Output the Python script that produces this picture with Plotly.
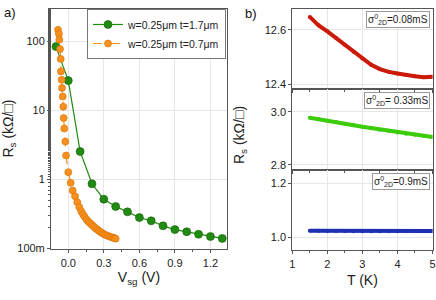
import plotly.graph_objects as go

# ---- panel a) data ----
vsg_thick = [-0.104, 0.0, 0.1, 0.2, 0.3, 0.4, 0.5, 0.6, 0.7, 0.8, 0.9, 1.0, 1.1, 1.2, 1.3]
rs_thick = [84.7, 27.2, 2.55, 0.867, 0.519, 0.406, 0.340, 0.281, 0.252, 0.213, 0.188, 0.175, 0.161, 0.149, 0.140]

vsg_thin = [-0.087, -0.079, -0.076, -0.070, -0.064, -0.062, -0.056, -0.053, -0.047, -0.042,
            -0.039, -0.034, -0.025, -0.019, 0.0, 0.02, 0.037, 0.057, 0.076, 0.093,
            0.11, 0.125, 0.14, 0.155, 0.17, 0.185, 0.2, 0.215, 0.23, 0.245,
            0.26, 0.275, 0.29, 0.305, 0.32, 0.335, 0.35, 0.365, 0.38, 0.39, 0.40]
rs_thin = [148, 129, 106, 78, 56, 37, 27.9, 21.3, 16.0, 11.4,
           7.8, 5.5, 3.56, 2.23, 1.28, 0.895, 0.693, 0.573, 0.469, 0.397,
           0.345, 0.31, 0.285, 0.262, 0.245, 0.232, 0.22, 0.208, 0.197, 0.188,
           0.18, 0.172, 0.166, 0.16, 0.156, 0.152, 0.149, 0.146, 0.143, 0.141, 0.139]

legend_names = ["w=0.25\u03bcm t=1.7\u03bcm", "w=0.25\u03bcm t=0.7\u03bcm"]
ytick_vals_a = [0.1, 1, 10, 100]
ytick_text_a = ["100m", "1", "10", "100"]
xtick_vals_a = [0.0, 0.3, 0.6, 0.9, 1.2]
xtick_text_a = ["0.0", "0.3", "0.6", "0.9", "1.2"]

# ---- panel b) data ----
T = [1.5, 1.75, 2.0, 2.25, 2.5, 2.75, 3.0, 3.25, 3.5, 3.75, 4.0, 4.25, 4.5, 4.75, 5.0]
rs_008 = [12.648, 12.617, 12.595, 12.57, 12.545, 12.52, 12.495, 12.472, 12.456, 12.446,
          12.44, 12.434, 12.43, 12.426, 12.428]
rs_033 = [2.977, 2.972, 2.966, 2.961, 2.955, 2.949, 2.943, 2.938, 2.932, 2.927,
          2.922, 2.917, 2.913, 2.909, 2.905]
rs_09 = [1.024, 1.024, 1.023, 1.023, 1.023, 1.022, 1.022, 1.022, 1.022, 1.022,
         1.022, 1.023, 1.023, 1.023, 1.023]
sigma_labels = ["=0.08mS", "= 0.33mS", "=0.9mS"]
T_ticks = [1, 2, 3, 4, 5]

GREEN = "#218a12"
ORANGE = "#f7901e"
RED = "#cc1a08"
LIME = "#3ccc0a"
BLUE = "#1d2fb2"
GRID = "#e6e6e6"
FONT = "Liberation Sans, Arial, sans-serif"

fig = go.Figure()

fig.add_trace(go.Scatter(x=vsg_thick, y=rs_thick, mode="lines+markers", name=legend_names[0],
                         line=dict(color=GREEN, width=1.2),
                         marker=dict(color=GREEN, size=8, line=dict(color="#156008", width=0.6)),
                         xaxis="x", yaxis="y"))
fig.add_trace(go.Scatter(x=vsg_thin, y=rs_thin, mode="lines+markers", name=legend_names[1],
                         line=dict(color=ORANGE, width=1.2, dash="dash"),
                         marker=dict(color=ORANGE, size=7, line=dict(color="#d87000", width=0.6)),
                         xaxis="x", yaxis="y"))

for ys, col, xa, ya in [(rs_008, RED, "x2", "y2"), (rs_033, LIME, "x3", "y3"), (rs_09, BLUE, "x4", "y4")]:
    fig.add_trace(go.Scatter(x=T, y=ys, mode="lines+markers", showlegend=False,
                             line=dict(color=col, width=4), marker=dict(color=col, size=4),
                             xaxis=xa, yaxis=ya))

W, H = 436, 300
ax_common = dict(showline=True, linecolor="#555", linewidth=1, mirror=True,
                 ticks="outside", ticklen=3, tickcolor="#555", automargin=False,
                 gridcolor=GRID, gridwidth=1, zeroline=False,
                 tickfont=dict(size=11, color="#222", family=FONT))
xd_b = [292.3 / W, 432.5 / W]

fig.update_layout(
    width=W, height=H, autosize=False, margin=dict(l=0, r=0, t=0, b=0),
    paper_bgcolor="white", plot_bgcolor="white",
    font=dict(family=FONT, color="#222"),
    xaxis=dict(domain=[51 / W, 227 / W], range=[-0.146, 1.34], tickvals=xtick_vals_a,
               ticktext=xtick_text_a, ticklabelstandoff=1,
               minor=dict(ticks="outside", ticklen=2, dtick=0.15, tickcolor="#555"),
               title=dict(text="V<sub>sg</sub> (V)", font=dict(size=14), standoff=3),
               anchor="y", **ax_common),
    yaxis=dict(domain=[1 - 248.5 / H, 1 - 8.5 / H], type="log", range=[-1, 2.48],
               tickvals=ytick_vals_a, ticktext=ytick_text_a,
               minor=dict(ticks="outside", ticklen=2, tickcolor="#555", showgrid=False),
               title=dict(text="R<sub>s</sub> (k\u03a9/\u25a1)", font=dict(size=14), standoff=0),
               anchor="x", **ax_common),
    xaxis2=dict(domain=xd_b, range=[1, 5], tickvals=T_ticks, showticklabels=False,
                minor=dict(ticks="outside", ticklen=2, dtick=0.5, tickcolor="#555"),
                anchor="y2", **ax_common),
    xaxis3=dict(domain=xd_b, range=[1, 5], tickvals=T_ticks, showticklabels=False,
                minor=dict(ticks="outside", ticklen=2, dtick=0.5, tickcolor="#555"),
                anchor="y3", **ax_common),
    xaxis4=dict(domain=xd_b, range=[1, 5], tickvals=T_ticks, ticklabelstandoff=1,
                minor=dict(ticks="outside", ticklen=2, dtick=0.5, tickcolor="#555"),
                title=dict(text="T (K)", font=dict(size=14), standoff=5),
                anchor="y4", **ax_common),
    yaxis2=dict(domain=[1 - 89 / H, 1 - 9 / H], range=[12.383, 12.677], tickvals=[12.4, 12.6],
                tickformat=".1f", anchor="x2", **ax_common),
    yaxis3=dict(domain=[1 - 170 / H, 1 - 89 / H], range=[2.781, 3.085], tickvals=[2.8, 3.0],
                tickformat=".1f", anchor="x3", **ax_common),
    yaxis4=dict(domain=[1 - 250 / H, 1 - 170 / H], range=[0.953, 1.249], tickvals=[1.0, 1.2],
                tickformat=".1f", anchor="x4", **ax_common),
    legend=dict(x=226 / W, y=1 - 9 / H, xanchor="right", yanchor="top",
                bgcolor="white", bordercolor="#777", borderwidth=1,
                font=dict(size=10.5, color="#222"), tracegroupgap=0,
                itemwidth=30, traceorder="normal"),
)

annotations = [
    dict(text="a)", x=2 / W, y=1 - 12 / H, xref="paper", yref="paper", xanchor="left",
         yanchor="middle", showarrow=False, font=dict(size=13, color="#111")),
    dict(text="b)", x=243 / W, y=1 - 13 / H, xref="paper", yref="paper", xanchor="left",
         yanchor="middle", showarrow=False, font=dict(size=13, color="#111")),
    dict(text="R<sub>s</sub> (k\u03a9/\u25a1)", x=240 / W, y=1 - 135 / H, xref="paper",
         yref="paper", textangle=-90, showarrow=False, font=dict(size=14, color="#222")),
]
for lbl, ytop in zip(sigma_labels, [11, 92, 173]):
    annotations.append(dict(text="\u03c3<sup>0</sup><sub>2D</sub>" + lbl, x=430 / W,
                            y=1 - ytop / H, xref="paper", yref="paper", xanchor="right",
                            yanchor="top", showarrow=False, bgcolor="white",
                            bordercolor="#999", borderwidth=1, borderpad=1,
                            font=dict(size=10, color="#222")))
fig.update_layout(annotations=annotations)

fig.write_html("out.html", config={"displayModeBar": False, "responsive": False},
               post_script="document.body.style.margin='0';document.body.style.overflow='hidden';")
